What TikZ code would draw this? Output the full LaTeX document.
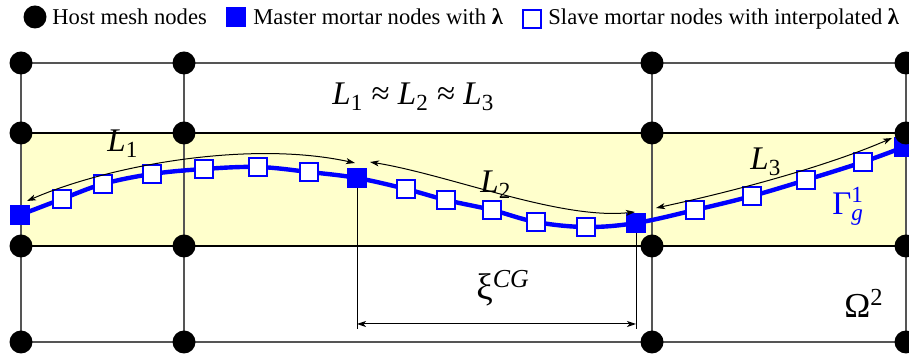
\documentclass[tikz,border=0pt]{standalone}
\usepackage{fontspec}
\setmainfont{Liberation Serif}
\usetikzlibrary{arrows.meta}
\definecolor{bandyellow}{RGB}{255,255,204}
\definecolor{meshgray}{RGB}{85,85,85}
\begin{document}
\begin{tikzpicture}[x=0.5pt, y=-0.5pt, >={Stealth[length=4.5pt, width=3pt, inset=1.2pt]}]
    \tikzset{
      hostnd/.style={circle, fill=black, inner sep=0pt, minimum size=11.5pt},
      masternd/.style={rectangle, fill=blue, inner sep=0pt, minimum size=10pt},
      slavend/.style={rectangle, draw=blue, fill=white, line width=0.75pt,
                      inner sep=0pt, minimum size=9pt},
      meshln/.style={draw=meshgray, line width=0.7pt},
      bandln/.style={draw=black, line width=1pt},
      lenarr/.style={<->, line width=0.5pt},
      lbl/.style={font=\fontsize{16.5}{18}\selectfont, inner sep=0pt, anchor=base west},
      lgd/.style={font=\fontsize{11.3}{13}\selectfont, inner sep=0pt, anchor=base west},
    }
    \useasboundingbox (0,0) rectangle (909,356);

    % host mesh
    \foreach \x [count=\i] in {21,184,652,906}
      \foreach \y [count=\j] in {63,133,246,342}
        \coordinate (h\i\j) at (\x,\y);
    \fill[bandyellow] (h12) rectangle (h43);
    \foreach \i in {1,...,4} \draw[meshln] (h\i1) -- (h\i4);
    \foreach \j in {1,4} \draw[meshln] (h1\j) -- (h4\j);
    \foreach \j in {2,3} \draw[bandln] (h1\j) -- (h4\j);

    % mortar nodes
    \foreach \n/\x/\y in {m1/20/215, s1/62/199, s2/103/184, s3/152/174, s4/204/169,
                          s5/258/167, s6/309/172, m2/357/178, s7/406/189, s8/446/200,
                          s9/492/210, s10/536/222, s11/586/227, m3/636/223, s12/695/210,
                          s13/752/196, s14/806/180, s15/863/162, m4/904/147}
      \coordinate (\n) at (\x,\y);

    % gap xi^CG
    \coordinate (e1) at (357,329);
    \coordinate (e2) at (636,329);
    \coordinate (d1) at (357,324);
    \coordinate (d2) at (636,324);
    \draw[line width=0.5pt] (m2) -- (e1);
    \draw[line width=0.5pt] (m3) -- (e2);
    \draw[lenarr] (d1) -- (d2);

    \draw[blue, line width=2.2pt] plot[smooth, tension=0.6] coordinates
      {(m1) (s1) (s2) (s3) (s4) (s5) (s6) (m2) (s7) (s8) (s9) (s10) (s11)
       (m3) (s12) (s13) (s14) (s15) (m4)};
    \foreach \k in {1,...,15} \node[slavend] (s\k-sq) at (s\k) {};
    \foreach \k in {1,...,4} \node[masternd] (m\k-sq) at (m\k) {};

    \foreach \i in {1,...,4}
      \foreach \j in {1,...,4}
        \node[hostnd] (hn\i\j) at (h\i\j) {};

    % segment lengths
    \coordinate (l1a) at (27,201);
    \coordinate (l1b) at (355,163);
    \coordinate (l2a) at (370,162);
    \coordinate (l2b) at (635,212);
    \coordinate (l3a) at (656,208);
    \coordinate (l3b) at (892,138);
    \draw[lenarr] (l1a) .. controls (110,165) and (250,140) .. (l1b);
    \draw[lenarr] (l2a) .. controls (450,175) and (560,220) .. (l2b);
    \draw[lenarr] (l3a) .. controls (740,190) and (830,165) .. (l3b);

    \node[lbl] (lenA) at (107,152) {\textit{L}\textsubscript{1}};
    \node[lbl] (lenB) at (480,193) {\textit{L}\textsubscript{2}};
    \node[lbl] (lenC) at (750,170) {\textit{L}\textsubscript{3}};
    \node[lbl] (lenEq) at (332,105) {\textit{L}\textsubscript{1} ≈ \textit{L}\textsubscript{2} ≈ \textit{L}\textsubscript{3}};
    \node[lbl, text=blue] (gam) at (832,215) {Γ\rlap{\textsuperscript{1}}\textsubscript{\textit{g}}};
    \node[lbl, anchor=center, font=\fontsize{18.5}{20}\selectfont] (xi) at (503,288) {ξ\textsuperscript{\textit{CG}}};
    \node[lbl, font=\fontsize{17.5}{19}\selectfont] (omg) at (844,318) {Ω\textsuperscript{2}};

    % legend
    \node[hostnd] (lgh) at (35,17) {};
    \node[lgd] (lght) at (52,25) {Host mesh nodes};
    \node[masternd] (lgm) at (236,17) {};
    \node[lgd] (lgmt) at (253,25) {Master mortar nodes with \textbf{λ}};
    \node[slavend] (lgs) at (532,19) {};
    \node[lgd] (lgst) at (548,25) {Slave mortar nodes with interpolated \textbf{λ}};
  \end{tikzpicture}
\end{document}
